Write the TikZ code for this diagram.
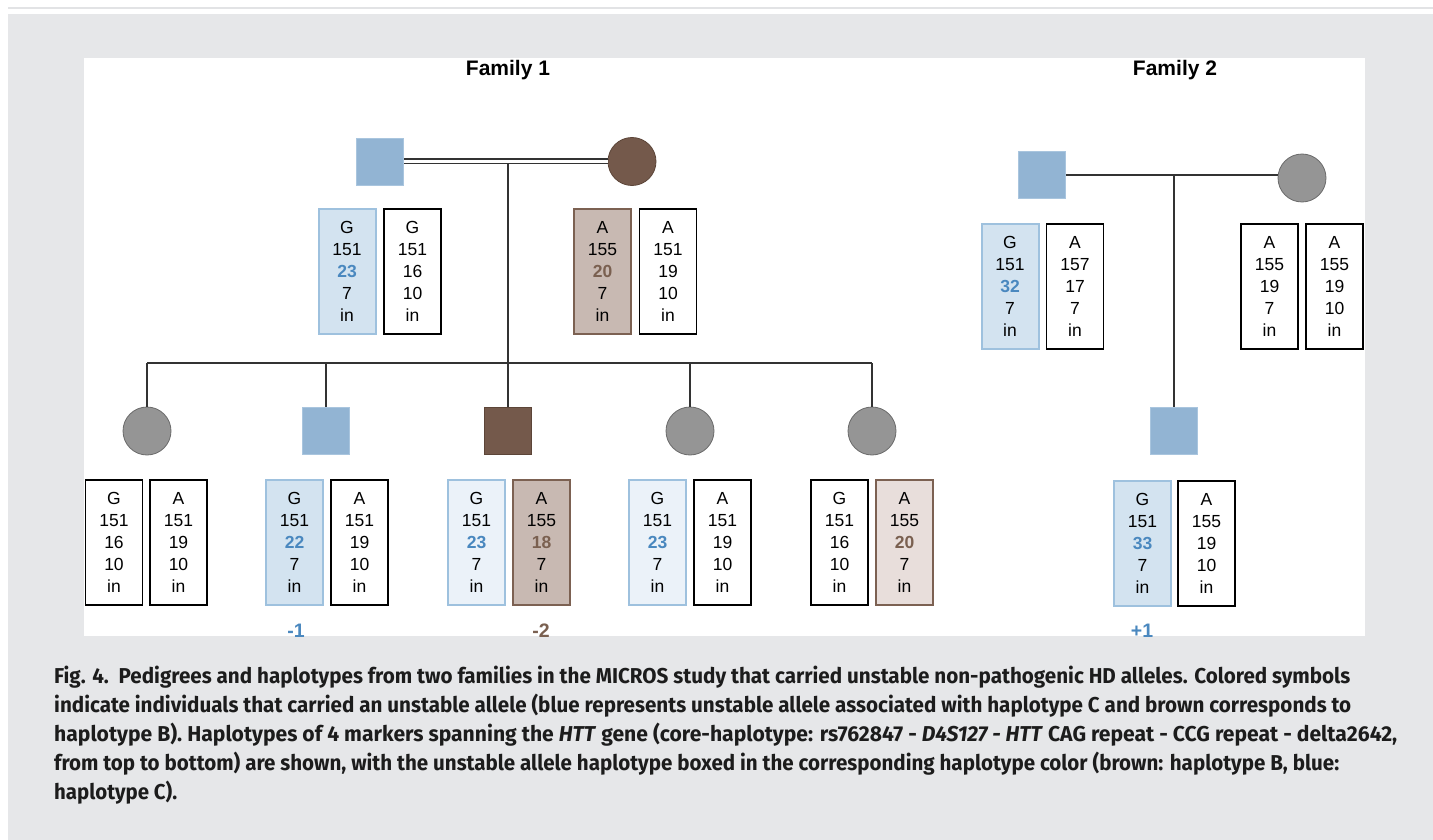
\documentclass[tikz,border=0pt]{standalone}
\usepackage{fontspec}
\usepackage{graphicx}
\setmainfont{Liberation Sans}
\newfontfamily\capfont{Fira Sans}
\usetikzlibrary{calc}
\definecolor{bgray}{HTML}{E6E7E9}
\definecolor{topline}{HTML}{E2E3E5}
\definecolor{symblue}{HTML}{92B4D3}
\definecolor{symblueb}{HTML}{A9C5DE}
\definecolor{symbrown}{HTML}{74594B}
\definecolor{symbrownb}{HTML}{5C4538}
\definecolor{symgray}{HTML}{959595}
\definecolor{symgrayb}{HTML}{6A6A6A}
\definecolor{boxblue}{HTML}{D3E3F0}
\definecolor{boxblueb}{HTML}{9EC1DE}
\definecolor{boxpale}{HTML}{EBF2F9}
\definecolor{boxbrown}{HTML}{C8B9B2}
\definecolor{boxbrownb}{HTML}{7C6152}
\definecolor{boxpalebrown}{HTML}{E8DEDB}
\definecolor{txtblue}{HTML}{4A88BF}
\definecolor{txtbrown}{HTML}{7A6050}
\definecolor{captxt}{HTML}{1C1C1C}
\newcommand\bluenum[1]{{\bfseries\color{txtblue}#1}}
\newcommand\brownnum[1]{{\bfseries\color{txtbrown}#1}}
\tikzset{
  pline/.style={line width=1.3pt, draw=black!80},
  sqsym/.style={rectangle, minimum size=47pt, inner sep=0pt, line width=0.8pt},
  cisym/.style={circle, minimum size=48pt, inner sep=0pt, line width=0.8pt},
  bluesym/.style={sqsym, fill=symblue, draw=symblueb},
  brownsq/.style={sqsym, fill=symbrown, draw=symbrownb},
  browncirc/.style={cisym, fill=symbrown, draw=symbrownb},
  graycirc/.style={cisym, fill=symgray, draw=symgrayb},
  hb/.style={rectangle, minimum width=57pt, minimum height=125pt, inner sep=0pt,
    align=center, font=\fontsize{17.5}{22}\selectfont, line width=1.5pt, draw=black, fill=white},
  hblue/.style={hb, fill=boxblue, draw=boxblueb, line width=2pt},
  hpale/.style={hb, fill=boxpale, draw=boxblueb, line width=1.6pt},
  hbrown/.style={hb, fill=boxbrown, draw=boxbrownb, line width=2pt},
  hpbrown/.style={hb, fill=boxpalebrown, draw=boxbrownb, line width=1.6pt},
  famtitle/.style={font=\bfseries\fontsize{21}{25}\selectfont, anchor=base},
  shiftlab/.style={font=\bfseries\fontsize{19.5}{23}\selectfont, anchor=base},
  capline/.style={anchor=base west, inner sep=0pt, text=captxt, font=\capfont\bfseries\fontsize{21.5}{25}\selectfont}
}
\begin{document}
\begin{tikzpicture}[x=1pt,y=-1pt]
\useasboundingbox (0,0) rectangle (1433,840);
\fill[white] (0,0) rectangle (1433,840);
\draw[topline, line width=1.5pt] (8,8) -- (1433,8);
\fill[bgray] (8,14) rectangle (1433,840);
\fill[white] (84,58) rectangle (1365,636);

% titles
\node[famtitle] (t1) at (508,75.5) {Family 1};
\node[famtitle] (t2) at (1175,75.5) {Family 2};

% ---------- Family 1 ----------
\node[bluesym] (f1fa) at (380,161.5) {};
\node[browncirc] (f1mo) at (632,161.5) {};
\draw[pline, double=white, double distance=3.6pt, line width=1.2pt] (f1fa.east) -- (f1mo.west);
\coordinate (f1mid) at (508,163.5);
\coordinate (f1sib) at (508,363);

\node[graycirc] (c1) at (147,431) {};
\node[bluesym] (c2) at (326,430.5) {};
\node[brownsq] (c3) at (508,430.5) {};
\node[graycirc] (c4) at (690,431) {};
\node[graycirc] (c5) at (872,431) {};

\draw[pline] (f1mid) -- (f1sib);
\draw[pline] (c1 |- f1sib) -- (c5 |- f1sib);
\foreach \c in {c1,c2,c3,c4,c5} \draw[pline] (\c |- f1sib) -- (\c.north);

% parents' haplotypes
\node[hblue] (f1faA) at (347,271.5) {G\\151\\\bluenum{23}\\7\\in};
\node[hb]    (f1faB) at (412.5,271.5) {G\\151\\16\\10\\in};
\node[hbrown](f1moA) at (602.5,271.5) {A\\155\\\brownnum{20}\\7\\in};
\node[hb]    (f1moB) at (668,271.5) {A\\151\\19\\10\\in};

% children haplotypes
\node[hb]     (c1A) at (114,542.5) {G\\151\\16\\10\\in};
\node[hb]     (c1B) at (178.5,542.5) {A\\151\\19\\10\\in};
\node[hblue]  (c2A) at (294.5,542.5) {G\\151\\\bluenum{22}\\7\\in};
\node[hb]     (c2B) at (359.5,542.5) {A\\151\\19\\10\\in};
\node[hpale]  (c3A) at (476.5,542.5) {G\\151\\\bluenum{23}\\7\\in};
\node[hbrown] (c3B) at (541.5,542.5) {A\\155\\\brownnum{18}\\7\\in};
\node[hpale]  (c4A) at (657.5,542.5) {G\\151\\\bluenum{23}\\7\\in};
\node[hb]     (c4B) at (722.5,542.5) {A\\151\\19\\10\\in};
\node[hb]     (c5A) at (839.5,542.5) {G\\151\\16\\10\\in};
\node[hpbrown](c5B) at (904.5,542.5) {A\\155\\\brownnum{20}\\7\\in};

% ---------- Family 2 ----------
\node[bluesym] (f2fa) at (1042,175) {};
\node[graycirc] (f2mo) at (1302,178) {};
\draw[pline] (f2fa.east) -- (f2mo.west |- f2fa.east);
\coordinate (f2mid) at (1174,175);
\node[bluesym] (f2c) at (1174,430.5) {};
\draw[pline] (f2mid) -- (f2c.north);

\node[hblue] (f2faA) at (1010,286.5) {G\\151\\\bluenum{32}\\7\\in};
\node[hb]    (f2faB) at (1075,286.5) {A\\157\\17\\7\\in};
\node[hb]    (f2moA) at (1269.5,286.5) {A\\155\\19\\7\\in};
\node[hb]    (f2moB) at (1334.5,286.5) {A\\155\\19\\10\\in};
\node[hblue] (f2cA) at (1142.5,543.5) {G\\151\\\bluenum{33}\\7\\in};
\node[hb]    (f2cB) at (1206.5,543.5) {A\\155\\19\\10\\in};

% instability labels (clipped by the panel)
\begin{scope}
\clip (84,58) rectangle (1365,636);
\node[shiftlab, text=txtblue]  (l1) at (296,637) {-1};
\node[shiftlab, text=txtbrown] (l2) at (541,637) {-2};
\node[shiftlab, text=txtblue]  (l3) at (1142,637) {+1};
\end{scope}

% caption
\node[capline] (cap1) at (54,683) {\resizebox{1296pt}{\height}{Fig. 4.\ \ Pedigrees and haplotypes from two families in the MICROS study that carried unstable non-pathogenic HD alleles. Colored symbols}};
\node[capline] (cap2) at (54,712) {\resizebox{1297pt}{\height}{indicate individuals that carried an unstable allele (blue represents unstable allele associated with haplotype C and brown corresponds to}};
\node[capline] (cap3) at (54,741) {\resizebox{1343pt}{\height}{haplotype B). Haplotypes of 4 markers spanning the \textit{HTT} gene (core-haplotype: rs762847 - \textit{D4S127 - HTT} CAG repeat - CCG repeat - delta2642,}};
\node[capline] (cap4) at (54,770) {\resizebox{1285pt}{\height}{from top to bottom) are shown, with the unstable allele haplotype boxed in the corresponding haplotype color (brown: haplotype B, blue:}};
\node[capline] (cap5) at (54,799) {\resizebox{123pt}{\height}{haplotype C).}};
\end{tikzpicture}
\end{document}
